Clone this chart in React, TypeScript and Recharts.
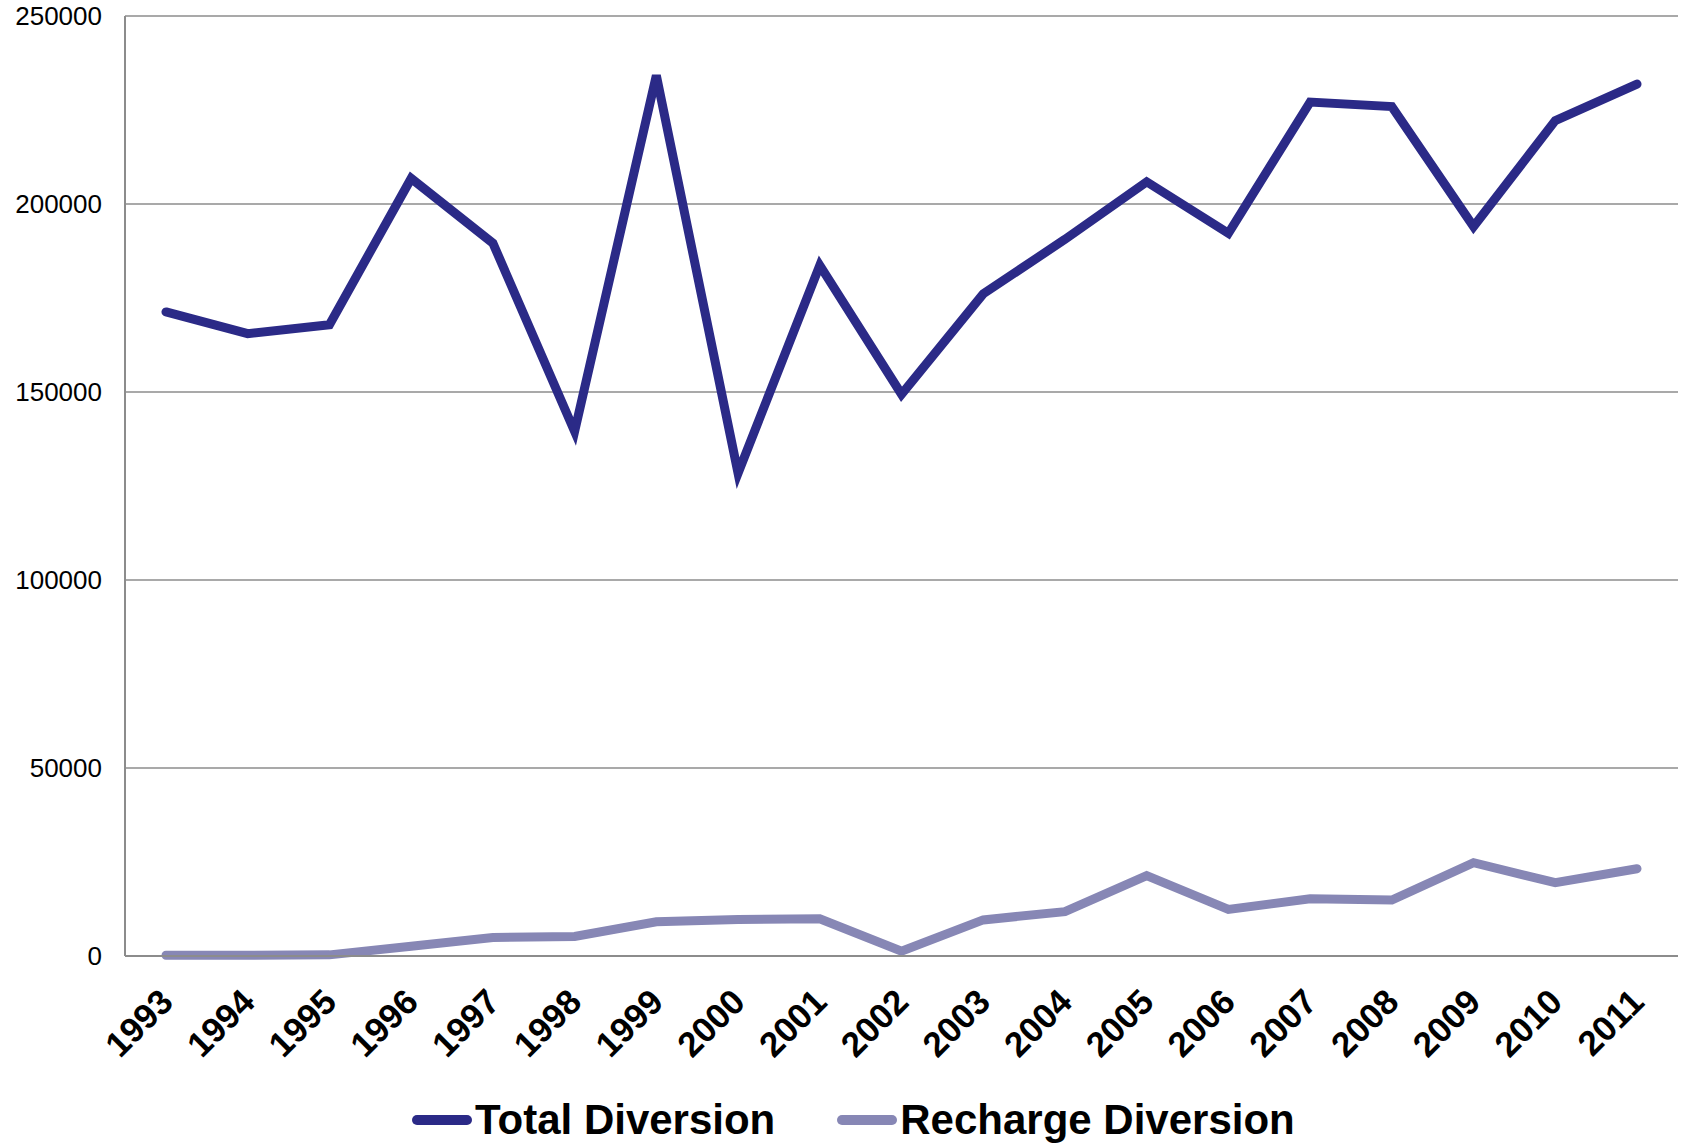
import React from "react";
import {
  LineChart,
  Line,
  XAxis,
  YAxis,
  CartesianGrid,
  Legend,
} from "recharts";

const years = [
  "1993", "1994", "1995", "1996", "1997", "1998", "1999", "2000", "2001", "2002",
  "2003", "2004", "2005", "2006", "2007", "2008", "2009", "2010", "2011",
];

const totalDiversion = [
  171300, 165500, 167900, 206800, 189600, 139500, 234200, 128400, 183700, 149400,
  176100, 190600, 205900, 192200, 227100, 225900, 194000, 222200, 231900,
];

const rechargeDiversion = [
  200, 200, 300, 2600, 4900, 5200, 9100, 9700, 9900, 1300,
  9600, 11800, 21400, 12400, 15200, 14900, 24800, 19500, 23200,
];

const yTicks = [0, 50000, 100000, 150000, 200000, 250000];

const TOTAL_COLOR = "#2b2a87";
const RECHARGE_COLOR = "#8787b5";
const FONT = "'Liberation Sans', Arial, sans-serif";

const data = years.map((year, i) => ({
  year,
  total: totalDiversion[i],
  recharge: rechargeDiversion[i],
}));

function YearTick(props: any) {
  const { x, y, payload } = props;
  const px = x + 9;
  const py = y + 40;
  return (
    <text
      x={px}
      y={py}
      transform={`rotate(-45, ${px}, ${py})`}
      textAnchor="end"
      fontFamily={FONT}
      fontWeight="bold"
      fontSize={35}
      fill="#000"
    >
      {payload.value}
    </text>
  );
}

function LegendContent() {
  const items = [
    { name: "Total Diversion", color: TOTAL_COLOR },
    { name: "Recharge Diversion", color: RECHARGE_COLOR },
  ];
  return (
    <div
      style={{
        display: "flex",
        alignItems: "center",
        paddingLeft: 412,
        paddingTop: 41,
        height: 46,
        fontFamily: FONT,
        fontWeight: "bold",
        fontSize: 42,
        color: "#000",
      }}
    >
      {items.map((item, i) => (
        <div
          key={item.name}
          style={{ display: "flex", alignItems: "center", marginLeft: i === 0 ? 0 : 62 }}
        >
          <span
            style={{
              display: "inline-block",
              width: 60,
              height: 10,
              borderRadius: 5,
              background: item.color,
              marginRight: 3,
            }}
          />
          <span>{item.name}</span>
        </div>
      ))}
    </div>
  );
}

export default function App() {
  return (
    <div style={{ position: "absolute", left: 0, top: 0, width: 1683, height: 1143, background: "#fff" }}>
      <LineChart
        width={1683}
        height={1143}
        data={data}
        margin={{ top: 16, right: 5, bottom: 0, left: 0 }}
      >
        <CartesianGrid vertical={false} stroke="#8c8c8c" strokeWidth={1.5} />
        <XAxis
          dataKey="year"
          height={100}
          padding={{ left: 41, right: 41 }}
          tickLine={false}
          axisLine={{ stroke: "#8c8c8c", strokeWidth: 2 }}
          tick={<YearTick />}
          interval={0}
        />
        <YAxis
          width={125}
          domain={[0, 250000]}
          ticks={yTicks}
          tickLine={false}
          tickMargin={17}
          axisLine={{ stroke: "#8c8c8c", strokeWidth: 2 }}
          tick={{ fontFamily: FONT, fontSize: 26, fill: "#000" }}
        />
        <Legend
          verticalAlign="bottom"
          height={87}
          wrapperStyle={{ left: 0, width: 1683 }}
          content={<LegendContent />}
        />
        <Line
          type="linear"
          dataKey="total"
          name="Total Diversion"
          stroke={TOTAL_COLOR}
          strokeWidth={9}
          strokeLinecap="round"
          dot={false}
          isAnimationActive={false}
        />
        <Line
          type="linear"
          dataKey="recharge"
          name="Recharge Diversion"
          stroke={RECHARGE_COLOR}
          strokeWidth={9}
          strokeLinecap="round"
          dot={false}
          isAnimationActive={false}
        />
      </LineChart>
    </div>
  );
}
